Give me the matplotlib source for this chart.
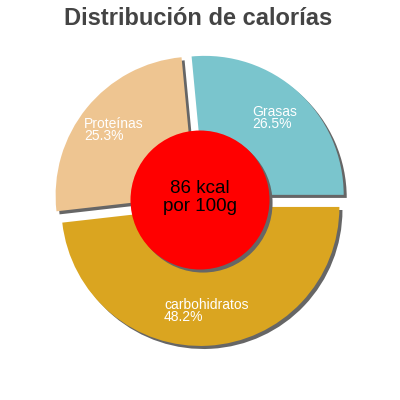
import matplotlib
matplotlib.use("Agg")
import matplotlib.pyplot as plt
from matplotlib.patches import Circle

plt.rcParams['font.family'] = ['Liberation Sans', 'DejaVu Sans']

names = ["Grasas", "Proteínas", "carbohidratos"]
pcts = [26.5, 25.3, 48.2]
colors = ["#7AC5CD", "#EEC591", "#DAA520"]
kcal = 86

labels = [n + "\n" + ("%.1f%%" % p) for n, p in zip(names, pcts)]
explode = [0.05] * len(pcts)
shadow_off = 0.022

fig = plt.figure(figsize=(4, 4), dpi=100)
ax = fig.add_axes([0, 0, 1, 1])

# shadow pie first, slightly right and down
ax.pie(pcts, explode=explode, startangle=0, counterclock=True,
       colors=["#666666"] * len(pcts), center=(shadow_off, -shadow_off),
       wedgeprops=dict(linewidth=0))

wedges, texts = ax.pie(pcts, explode=explode, startangle=0, counterclock=True,
                       colors=colors, labels=labels, labeldistance=0.75,
                       wedgeprops=dict(linewidth=0),
                       textprops=dict(color="white", fontsize=10))
for t in texts:
    t.set_ha("center")
    t.set_va("center")
    t.set_multialignment("left")
    t.set_linespacing(0.85)

ax.add_patch(Circle((shadow_off, -shadow_off), 0.5, color="#666666", lw=0))
ax.add_patch(Circle((0, 0), 0.5, color="#FF0000", lw=0))
ax.text(0, 0.02, "%d kcal\npor 100g" % kcal, ha="center", va="center",
        fontsize=13.5, color="black", linespacing=1.05)

lim = 200 / 139
ax.set_xlim(-lim, lim)
ax.set_ylim(-lim, lim)
ax.set_aspect("equal")
ax.axis("off")

fig.text(0.495, 1 - 25 / 400, "Distribución de calorías", ha="center",
         va="baseline", fontsize=17, fontweight="bold", color="#444444")

fig.savefig("out.png", dpi=100)
